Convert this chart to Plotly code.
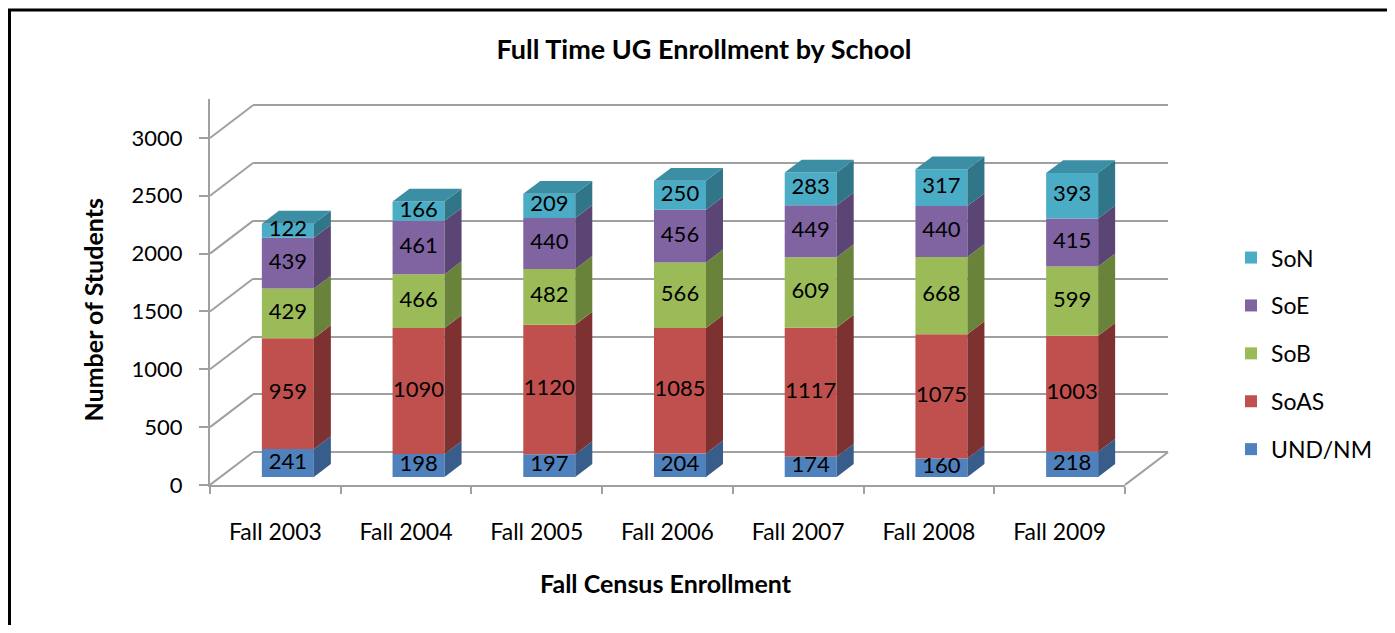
import plotly.graph_objects as go

# ---------------- data ----------------
categories = ["Fall 2003", "Fall 2004", "Fall 2005", "Fall 2006", "Fall 2007", "Fall 2008", "Fall 2009"]
und_nm = [241, 198, 197, 204, 174, 160, 218]
soas = [959, 1090, 1120, 1085, 1117, 1075, 1003]
sob = [429, 466, 482, 566, 609, 668, 599]
soe = [439, 461, 440, 456, 449, 440, 415]
son = [122, 166, 209, 250, 283, 317, 393]
series_names = ["UND/NM", "SoAS", "SoB", "SoE", "SoN"]
y_tick_values = [0, 500, 1000, 1500, 2000, 2500, 3000]

# ---------------- styles ----------------
front_colors = ["#4F81BD", "#C0504D", "#9BBB59", "#8064A2", "#4BACC6"]
side_colors = ["#385D8A", "#7D3231", "#6A833B", "#5A4574", "#307688"]
top_colors = ["#4374AD", "#A94542", "#89A84C", "#70568F", "#3B8EA3"]
FONT = "Lato"
GRID = "#a0a0a0"

# page offset (browser body margin), vertical page scale and figure size
OFF = 8
SY = 633 / 641
FW, FH = 1395 - 2 * OFF, 633 - 2 * OFF

# geometry, in screen pixels
FRONT_X0, FRONT_X1, FLOOR_Y = 210, 1125, 489
BACK_DX, BACK_DY = 43, 33
TOP_Y = 100
PX_PER_UNIT = 350 / 3000
BAR_SHIFT_X, BAR_LIFT = 12.5, 8
BAR_W_PX = 52
BAR_DX_PX, BAR_DY_PX = 17, 13

n = len(categories)
cat_px = (FRONT_X1 - FRONT_X0) / n


def px(x):
    return (x - OFF) / FW


def fy(y):
    return y / SY - OFF


def py(y):
    return 1 - fy(y) / FH


y_domain = [py(FLOOR_Y), py(TOP_Y)]
back_x0, back_x1 = FRONT_X0 + BACK_DX, FRONT_X1 + BACK_DX
bar_c0 = FRONT_X0 + cat_px / 2 + BAR_SHIFT_X
bar_x_range = [(back_x0 - bar_c0) / cat_px, (back_x1 - bar_c0) / cat_px]
bar_y_range = [-BAR_LIFT / PX_PER_UNIT, (FLOOR_Y - BAR_LIFT - TOP_Y) / PX_PER_UNIT]
back_y_range = [-BACK_DY / PX_PER_UNIT, (FLOOR_Y - BACK_DY - TOP_Y) / PX_PER_UNIT]
front_y_range = [0, (FLOOR_Y - TOP_Y) / PX_PER_UNIT]

bw = BAR_W_PX / cat_px
ddx = BAR_DX_PX / cat_px
ddy = BAR_DY_PX / PX_PER_UNIT

fig = go.Figure()

# invisible trace so the back-wall grid subplot exists
fig.add_trace(go.Scatter(x=[None], y=[None], xaxis="x", yaxis="y",
                         showlegend=False, hoverinfo="skip"))

series = [und_nm, soas, sob, soe, son]
xs = list(range(n))
base = [0] * n

# front faces
for k, (name, vals, col) in enumerate(zip(series_names, series, front_colors)):
    fig.add_trace(go.Bar(
        x=xs, y=vals, base=base[:], name=name, width=bw,
        marker=dict(color=col, line=dict(width=0)),
        xaxis="x", yaxis="y3", legendgroup=name, legendrank=len(series_names) - k,
        hoverinfo="y+name",
    ))
    base = [b + v for b, v in zip(base, vals)]

# side faces and top faces (3D look), built from data
base = [0] * n
for k, (name, vals) in enumerate(zip(series_names, series)):
    sx, sy = [], []
    for i in xs:
        b, t = base[i], base[i] + vals[i]
        xr = i + bw / 2
        sx += [xr, xr + ddx, xr + ddx, xr, xr, None]
        sy += [b, b + ddy, t + ddy, t, b, None]
    fig.add_trace(go.Scatter(
        x=sx, y=sy, mode="lines", fill="toself", fillcolor=side_colors[k],
        line=dict(width=0, color=side_colors[k]), xaxis="x", yaxis="y3",
        showlegend=False, hoverinfo="skip",
    ))
    base = [b + v for b, v in zip(base, vals)]

tx, ty = [], []
for i in xs:
    t = base[i]
    xl, xr = i - bw / 2, i + bw / 2
    tx += [xl, xl + ddx, xr + ddx, xr, xl, None]
    ty += [t, t + ddy, t + ddy, t, t, None]
fig.add_trace(go.Scatter(
    x=tx, y=ty, mode="lines", fill="toself", fillcolor=top_colors[-1],
    line=dict(width=0, color=top_colors[-1]), xaxis="x", yaxis="y3",
    showlegend=False, hoverinfo="skip",
))

# data labels
base = [0] * n
lx, lyv, lt = [], [], []
for vals in series:
    for i in xs:
        lx.append(i)
        lyv.append(base[i] + vals[i] / 2)
        lt.append(str(vals[i]))
    base = [b + v for b, v in zip(base, vals)]
fig.add_trace(go.Scatter(
    x=lx, y=lyv, text=lt, mode="text", textposition="middle center",
    textfont=dict(family=FONT, size=22, color="black"),
    xaxis="x", yaxis="y3", showlegend=False, hoverinfo="skip",
))

# front frame subplot (category labels + value axis)
fig.add_trace(go.Scatter(
    x=categories, y=[None] * n, mode="markers", xaxis="x2", yaxis="y2",
    showlegend=False, hoverinfo="skip",
))

# 3D frame decoration: diagonals from front axis to back wall
shapes = []
for v in y_tick_values:
    yf = FLOOR_Y - v * PX_PER_UNIT
    shapes.append(dict(type="line", xref="paper", yref="paper",
                       x0=px(FRONT_X0), y0=py(yf), x1=px(back_x0), y1=py(yf - BACK_DY),
                       line=dict(color=GRID, width=2), layer="below"))
shapes.append(dict(type="line", xref="paper", yref="paper",
                   x0=px(FRONT_X1), y0=py(FLOOR_Y), x1=px(back_x1), y1=py(FLOOR_Y - BACK_DY),
                   line=dict(color=GRID, width=2), layer="below"))
# chart border
shapes.append(dict(type="rect", xref="paper", yref="paper",
                   x0=px(9.5), y0=-0.05, x1=1.05, y1=py(10),
                   line=dict(color="black", width=3), fillcolor="rgba(0,0,0,0)"))

fig.update_layout(
    width=FW, height=FH,
    margin=dict(l=0, r=0, t=0, b=0),
    paper_bgcolor="white", plot_bgcolor="rgba(0,0,0,0)",
    barmode="overlay",
    font=dict(family=FONT, size=22, color="black"),
    title=dict(text="<b>Full Time UG Enrollment by School</b>", x=px(704), xanchor="center",
               y=py(49), yanchor="middle", font=dict(family=FONT, size=27, color="black")),
    xaxis=dict(domain=[px(back_x0), px(back_x1)], range=bar_x_range, visible=False,
               anchor="y"),
    yaxis=dict(domain=y_domain, range=back_y_range, showgrid=True, gridcolor=GRID,
               gridwidth=2, zeroline=False, showticklabels=False, ticks="",
               tickvals=y_tick_values, showline=False, anchor="x"),
    yaxis3=dict(domain=y_domain, overlaying="y", range=bar_y_range, visible=False,
                anchor="x", showgrid=False),
    xaxis2=dict(domain=[px(FRONT_X0), px(FRONT_X1)], type="category",
                categoryorder="array", categoryarray=categories, range=[-0.5, n - 0.5],
                anchor="y2", showline=True, linecolor=GRID, linewidth=2,
                ticks="outside", tickson="boundaries", ticklen=7, tickcolor=GRID, tickwidth=2,
                showgrid=False, zeroline=False, ticklabelstandoff=25,
                tickfont=dict(family=FONT, size=23, color="black")),
    yaxis2=dict(domain=y_domain, range=front_y_range, anchor="x2",
                tickvals=y_tick_values, showline=True, linecolor=GRID, linewidth=2,
                ticks="outside", ticklen=9, tickcolor=GRID, tickwidth=2,
                showgrid=False, zeroline=False, ticklabelstandoff=12,
                tickfont=dict(family=FONT, size=22, color="black")),
    legend=dict(x=px(1231), y=py(238), xanchor="left", yanchor="top",
                traceorder="grouped", tracegroupgap=15,
                font=dict(family=FONT, size=23, color="black"),
                bgcolor="rgba(0,0,0,0)"),
    shapes=shapes,
    annotations=[
        dict(text="<b>Number of Students</b>", xref="paper", yref="paper",
             x=px(93), y=py(313), textangle=-90, showarrow=False,
             xanchor="center", yanchor="middle",
             font=dict(family=FONT, size=25, color="black")),
        dict(text="<b>Fall Census Enrollment</b>", xref="paper", yref="paper",
             x=px(666), y=py(587.5), showarrow=False, xanchor="center", yanchor="middle",
             font=dict(family=FONT, size=25, color="black")),
    ],
    hovermode="closest",
)

fig.write_html("out.html")
